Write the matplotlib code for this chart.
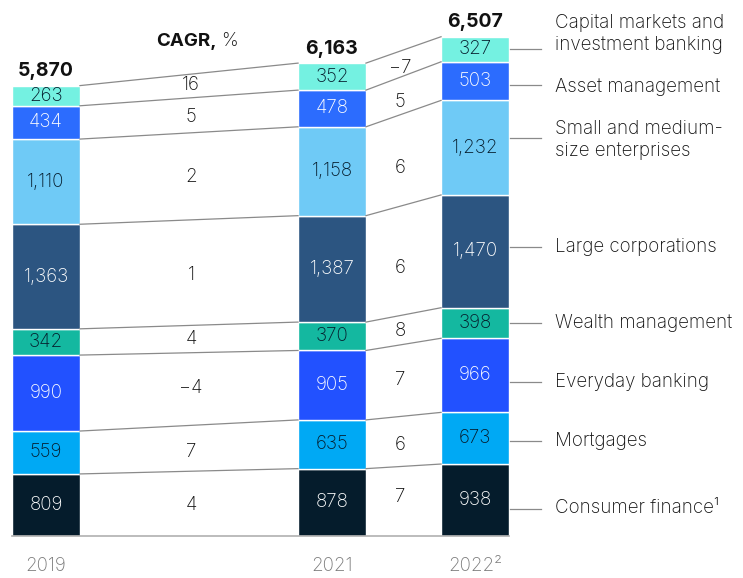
import numpy as np
import matplotlib.pyplot as plt

plt.rcParams['font.family'] = ['Inter', 'DejaVu Sans']
plt.rcParams['font.weight'] = 'light'

# Data, bottom to top
segments = ["Consumer finance\u00b9", "Mortgages", "Everyday banking", "Wealth management",
            "Large corporations", "Small and medium-\nsize enterprises", "Asset management",
            "Capital markets and\ninvestment banking"]
years = ["2019", "2021", "2022\u00b2"]
v2019 = [809, 559, 990, 342, 1363, 1110, 434, 263]
v2021 = [878, 635, 905, 370, 1387, 1158, 478, 352]
v2022 = [938, 673, 966, 398, 1470, 1232, 503, 327]
totals = ["5,870", "6,163", "6,507"]
cagr_19_21 = ["4", "7", "\u22124", "4", "1", "2", "5", "16"]
cagr_21_22 = ["7", "6", "7", "8", "6", "6", "5", "\u22127"]

colors = ["#051c2c", "#00a9f4", "#2251ff", "#14b8a0", "#2c5581", "#6fcaf6", "#2c6cfe", "#74f1e1"]
text_colors = ["white", "#051c2c", "white", "#051c2c", "white", "#051c2c", "white", "#051c2c"]

# layout (pixels -> data)
W, H = 743, 578
xpx0, xunit = 46, 143.0
base_px, yunit = 536, 0.07673
def px_x(p): return (p - xpx0) / xunit
def px_y(p): return (base_px - p) / yunit

positions = [0, 2, 3]
bw = 0.475

fig = plt.figure(figsize=(W / 100, H / 100), dpi=100)
ax = fig.add_axes([0, 0, 1, 1])
ax.set_xlim(px_x(0), px_x(W))
ax.set_ylim(px_y(H), px_y(0))
ax.axis("off")

data = [v2019, v2021, v2022]
bounds = []
for pos, vals in zip(positions, data):
    cum = np.concatenate([[0], np.cumsum(vals)])
    bounds.append(cum)
    for i, v in enumerate(vals):
        ax.bar(pos, v, bottom=cum[i], width=bw, color=colors[i], edgecolor="white", linewidth=1)
        ax.text(pos, cum[i] + v / 2, f"{v:,}", ha="center", va="center",
                fontsize=13.5, color=text_colors[i])

# totals
for pos, cum, t in zip(positions, bounds, totals):
    ax.annotate(t, (pos, cum[-1]), xytext=(0, 4), textcoords="offset points",
                ha="center", va="bottom", fontsize=14, fontweight="bold", color="#111111")

# connectors
for a, b in [(0, 1), (1, 2)]:
    for k in range(1, len(segments) + 1):
        ax.plot([positions[a] + bw / 2, positions[b] - bw / 2], [bounds[a][k], bounds[b][k]],
                color="#8a8a8a", lw=0.9)

# baseline
ax.plot([positions[0] - bw / 2, positions[-1] + bw / 2], [0, 0], color="#b0b0b0", lw=1.2)

# CAGR labels
cagr_left_px = [505, 452, 388, 339, 275, 177, 117, 85]
cagr_right_px = [497, 445, 380, 331, 268, 168, 102, 68]
for lab, yp in zip(cagr_19_21, cagr_left_px):
    ax.text(px_x(191), px_y(yp), lab, ha="center", va="center", fontsize=13.5, color="#111111")
for lab, yp in zip(cagr_21_22, cagr_right_px):
    ax.text(px_x(400), px_y(yp), lab, ha="center", va="center", fontsize=13.5, color="#111111")

ax.text(px_x(217), px_y(41), "CAGR,", ha="right", va="center", fontsize=13.5,
        fontweight="bold", color="#111111")
ax.text(px_x(221), px_y(41), "%", ha="left", va="center", fontsize=13.5, color="#111111")

# right-hand legend labels
line_px = [509, 441, 382, 323, 247, 138, 85, 49]
text_px = [508, 441, 382, 323, 247, 140, 87, 34]
for name, lp, tp in zip(segments, line_px, text_px):
    ax.plot([px_x(510), px_x(541)], [px_y(lp), px_y(lp)], color="#8a8a8a", lw=0.9)
    ax.text(px_x(555), px_y(tp), name, ha="left", va="center", fontsize=13.5,
            color="#111111", linespacing=1.25)

# year labels
for pos, y in zip(positions, years):
    ax.text(pos, px_y(566), y, ha="center", va="center", fontsize=13.5, color="#7a7a7a")

fig.savefig("out.png", dpi=100)
